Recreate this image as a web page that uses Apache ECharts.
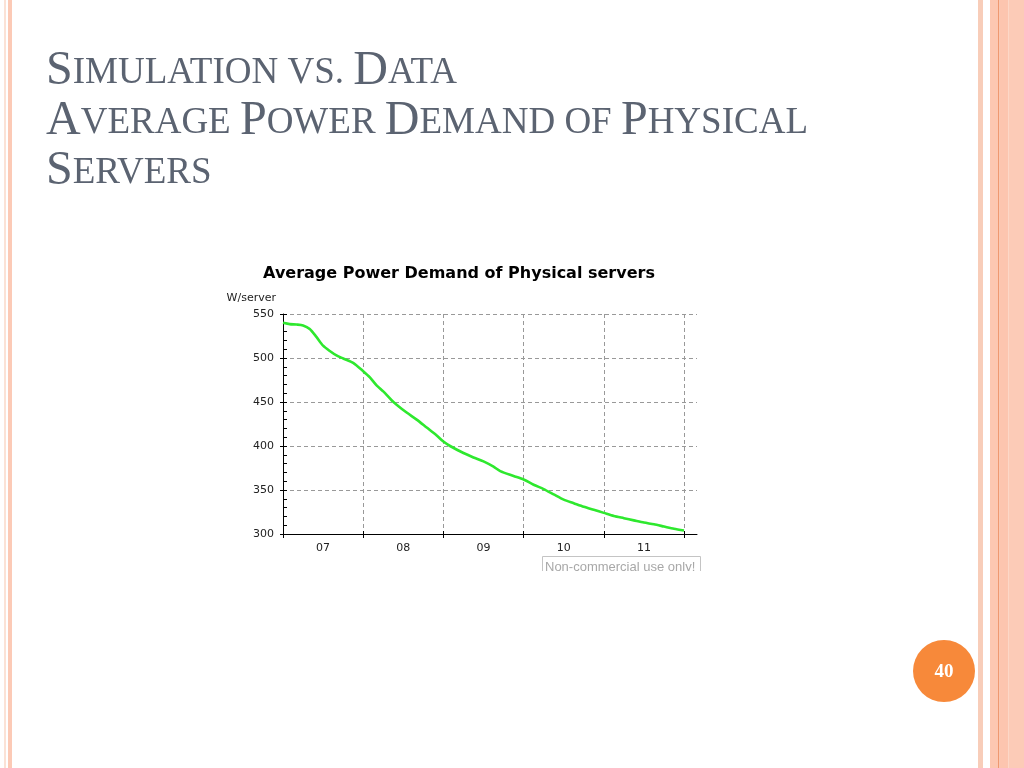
<!DOCTYPE html>
<html>
<head>
<meta charset="utf-8">
<script src="https://cdn.jsdelivr.net/npm/echarts@6/dist/echarts.min.js"></script>
<style>
html,body{margin:0;padding:0;background:#fff;}
#chart{width:1024px;height:768px;}
</style>
</head>
<body>
<div id="chart"></div>
<script>
// Data
var yearLabels = ['07', '08', '09', '10', '11'];
var monthIndex = [0, 1, 2, 3, 4, 5, 6, 7, 8, 9, 10.5, 12, 13, 14, 15, 16.25, 17, 18.5, 20, 21.5, 23, 24, 25, 27, 28.5, 30, 31.5, 32.5, 34.5, 36, 37.5, 39, 40.5, 42, 43.5, 45, 46.5, 48, 49.5, 51, 52.5, 54, 55.5, 57, 58.5, 60];
var wattsPerServer = [540, 538.5, 538, 537, 533, 524, 514, 508, 503, 499.5, 494.5, 485, 478, 469, 462, 452, 447, 438, 430, 421, 412, 405, 400, 392, 387, 382.5, 376.5, 371.5, 366, 362, 356, 351, 345, 339, 335, 331, 327.5, 324, 320.5, 318, 315.5, 313, 311, 308.5, 306, 304];
var yTicks = [300, 350, 400, 450, 500, 550];

var seriesData = monthIndex.map(function (m, i) { return [m, wattsPerServer[i]]; });

var chart = echarts.init(document.getElementById('chart'), null, {renderer: 'canvas'});
var axisFont = {fontFamily: 'DejaVu Sans', fontSize: 11, color: '#222'};
var grayDash = {color: '#999', type: [4, 3], width: 1};
var titleColor = '#5b6371';

var option = {
  backgroundColor: '#ffffff',
  animation: false,
  textStyle: {fontFamily: 'DejaVu Sans'},
  grid: [
    {left: 283, top: 314, right: 327, bottom: 234, containLabel: false},
    {left: 283, top: 314, right: 340, bottom: 234, containLabel: false}
  ],
  xAxis: [
    {gridIndex: 0, type: 'value', min: 0, max: 1,
     axisLine: {show: true, lineStyle: {color: '#000', width: 1}},
     axisTick: {show: false}, axisLabel: {show: false}, splitLine: {show: false}},
    {gridIndex: 1, type: 'value', min: 0, max: 60, interval: 12,
     axisLine: {show: false},
     axisTick: {show: true, inside: true, length: 3, lineStyle: {color: '#000'}},
     axisLabel: {show: false},
     splitLine: {show: true, lineStyle: grayDash}},
    {gridIndex: 1, type: 'category', data: yearLabels, boundaryGap: true, position: 'bottom',
     axisLine: {show: false},
     axisTick: {show: true, inside: false, length: 4, lineStyle: {color: '#000'}},
     axisLabel: Object.assign({margin: 9}, axisFont),
     splitLine: {show: false}}
  ],
  yAxis: [
    {gridIndex: 0, type: 'value', min: 300, max: 550, interval: 50,
     name: 'W/server', nameLocation: 'end', nameGap: 10,
     nameTextStyle: {fontFamily: 'DejaVu Sans', fontSize: 11, color: '#222', align: 'right', verticalAlign: 'bottom', padding: [0, 7, 0, 0]},
     axisLine: {show: true, lineStyle: {color: '#000', width: 1}},
     axisTick: {show: true, inside: true, length: 4, lineStyle: {color: '#000'}},
     minorTick: {show: true, splitNumber: 5, length: 4, lineStyle: {color: '#000'}},
     axisLabel: Object.assign({margin: 9, formatter: function (v) { return yTicks.indexOf(v) >= 0 ? String(v) : ''; }}, axisFont),
     splitLine: {show: true, lineStyle: grayDash}},
    {gridIndex: 1, type: 'value', min: 300, max: 550, interval: 50,
     axisLine: {show: false},
     axisTick: {show: true, inside: false, length: 3, lineStyle: {color: '#000'}},
     axisLabel: {show: false}, splitLine: {show: false}}
  ],
  series: [
    {type: 'line', xAxisIndex: 1, yAxisIndex: 1, data: seriesData,
     showSymbol: false, smooth: 0.25,
     lineStyle: {color: '#2ee82e', width: 2.6}, z: 5}
  ],
  graphic: [
    // slide decorations
    {type: 'rect', shape: {x: 4, y: 0, width: 2, height: 768}, style: {fill: '#fbe2d6'}, z: -10, silent: true},
    {type: 'rect', shape: {x: 8, y: 0, width: 4, height: 768}, style: {fill: '#fccab6'}, z: -10, silent: true},
    {type: 'rect', shape: {x: 978, y: 0, width: 5, height: 768}, style: {fill: '#f8cdb9'}, z: -10, silent: true},
    {type: 'rect', shape: {x: 990, y: 0, width: 8, height: 768}, style: {fill: '#fdc7b1'}, z: -10, silent: true},
    {type: 'rect', shape: {x: 998, y: 0, width: 1.5, height: 768}, style: {fill: '#ef9870'}, z: -10, silent: true},
    {type: 'rect', shape: {x: 999.5, y: 0, width: 9, height: 768}, style: {fill: '#fdc5af'}, z: -10, silent: true},
    {type: 'rect', shape: {x: 1008.5, y: 0, width: 16, height: 768}, style: {fill: '#fccbb7'}, z: -10, silent: true},
    // slide title
    {type: 'text', x: 46, y: 45, silent: true,
     style: {
       text: '{b|S}{s|IMULATION VS. }{b|D}{s|ATA}\n{b|A}{s|VERAGE }{b|P}{s|OWER }{b|D}{s|EMAND OF }{b|P}{s|HYSICAL}\n{b|S}{s|ERVERS}',
       textAlign: 'left', textVerticalAlign: 'top',
       fill: titleColor,
       rich: {
         b: {fontFamily: 'Liberation Serif', fontSize: 48, lineHeight: 50, fill: titleColor, color: titleColor, verticalAlign: 'bottom'},
         s: {fontFamily: 'Liberation Serif', fontSize: 37, lineHeight: 50, fill: titleColor, color: titleColor, verticalAlign: 'bottom', padding: [0, 0, 3, 0]}
       }
     }},
    // chart title
    {type: 'text', x: 459, y: 274, silent: true,
     style: {text: 'Average Power Demand of Physical servers', textAlign: 'center', textVerticalAlign: 'middle',
             font: 'bold 16px "DejaVu Sans"', fill: '#000'}},
    // watermark box
    {type: 'rect', shape: {x: 542.5, y: 556.5, width: 158, height: 22}, style: {fill: 'none', stroke: '#c4c4c4', lineWidth: 1}, silent: true, z: 10},
    {type: 'text', x: 545, y: 561, silent: true, z: 10,
     style: {text: 'Non-commercial use only!', textAlign: 'left', textVerticalAlign: 'top', font: '13px "Liberation Sans"', fill: '#a8a8a8'}},
    {type: 'rect', shape: {x: 535, y: 571, width: 175, height: 14}, style: {fill: '#ffffff'}, silent: true, z: 11},
    // page number
    {type: 'circle', shape: {cx: 944, cy: 671, r: 31}, style: {fill: '#f7893a'}, silent: true},
    {type: 'text', x: 944, y: 672, silent: true,
     style: {text: '40', textAlign: 'center', textVerticalAlign: 'middle', font: 'bold 19px "Liberation Serif"', fill: '#ffffff'}}
  ]
};
chart.setOption(option);
</script>
</body>
</html>
